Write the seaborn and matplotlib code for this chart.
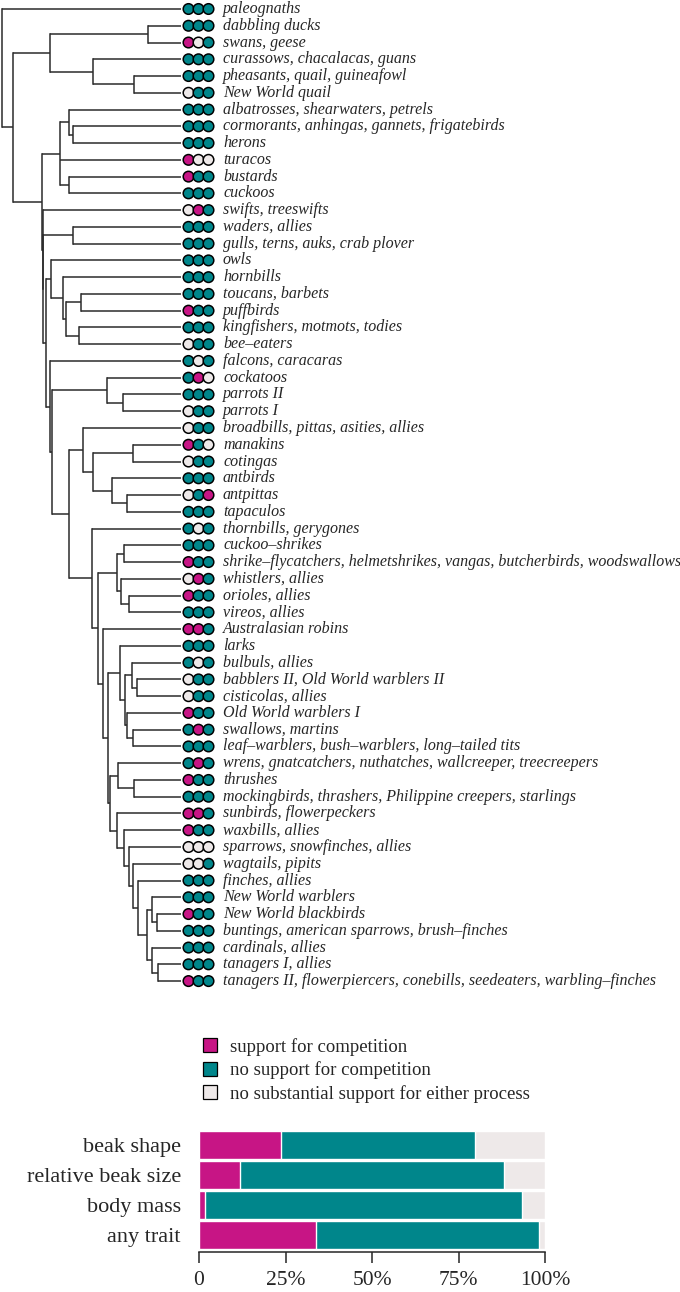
import numpy as np
import pandas as pd
import matplotlib
matplotlib.use('Agg')
import matplotlib.pyplot as plt
from matplotlib.patches import Patch
import seaborn as sns

# bird groups, top to bottom
groups = ["paleognaths", "dabbling ducks", "swans, geese", "curassows, chacalacas, guans",
          "pheasants, quail, guineafowl", "New World quail", "albatrosses, shearwaters, petrels",
          "cormorants, anhingas, gannets, frigatebirds", "herons", "turacos", "bustards", "cuckoos",
          "swifts, treeswifts", "waders, allies", "gulls, terns, auks, crab plover", "owls", "hornbills",
          "toucans, barbets", "puffbirds", "kingfishers, motmots, todies", "bee–eaters",
          "falcons, caracaras", "cockatoos", "parrots II", "parrots I",
          "broadbills, pittas, asities, allies", "manakins", "cotingas", "antbirds", "antpittas",
          "tapaculos", "thornbills, gerygones", "cuckoo–shrikes",
          "shrike–flycatchers, helmetshrikes, vangas, butcherbirds, woodswallows",
          "whistlers, allies", "orioles, allies", "vireos, allies", "Australasian robins", "larks",
          "bulbuls, allies", "babblers II, Old World warblers II", "cisticolas, allies",
          "Old World warblers I", "swallows, martins", "leaf–warblers, bush–warblers, long–tailed tits",
          "wrens, gnatcatchers, nuthatches, wallcreeper, treecreepers", "thrushes",
          "mockingbirds, thrashers, Philippine creepers, starlings", "sunbirds, flowerpeckers",
          "waxbills, allies", "sparrows, snowfinches, allies", "wagtails, pipits", "finches, allies",
          "New World warblers", "New World blackbirds", "buntings, american sparrows, brush–finches",
          "cardinals, allies", "tanagers I, allies",
          "tanagers II, flowerpiercers, conebills, seedeaters, warbling–finches"]

# M = support for competition, T = no support, W = no substantial support
beak_shape    = "TTMTTWTTTM" "MTWTTTTTMT" "WTTTWWMWTW" "TTTMWMTMTT" "WWMTTTMTMM" "WWTTMTTTM"
rel_beak_size = "TTWTTTTTTW" "TTMTTTTTTT" "TWMTTTTTTT" "TWTTMTTMTW" "TTTMTMTTMT" "WWTTTTTTT"
body_mass     = "TTTTTTTTTW" "TTTTTTTTTT" "TTWTTTWTTM" "TTTTTTTTTT" "TTTTTTTTTT" "WTTTTTTTT"

# tree as (node depth, children); integers are tips
galloanserae = (50, [(148, [1, 2]), (93, [3, (134, [4, 5])])])
waterbirds = (60, [(69, [6, (73, [7, 8])]), 9, (69, [10, 11])])
afroaves = (51, [15, (63, [16, (66, [(81, [17, 18]), (79, [19, 20])])])])
parrots = (107, [22, (123, [23, 24])])
suboscines = (83, [25, (93, [(133, [26, 27]), (112, [28, (127, [29, 30])])])])
corvoidea = (117, [(124, [32, 33]), (121, [34, (129, [35, 36])])])
sylvioidea = (120, [38, (125, [(132, [39, (137, [40, 41])]), (127, [42, (133, [43, 44])])])])
muscicapoidea = (118, [45, (134, [46, 47])])
nw_nine = (147, [(152, [53, (157, [54, 55])]), (152, [56, (158, [57, 58])])])
passeroidea = (117, [48, (124, [49, (129, [50, (133, [51, (138, [52, nw_nine])])])])])
passerides = (103, [37, (108, [sylvioidea, (110, [muscicapoidea, passeroidea])])])
oscines = (92, [31, (98, [corvoidea, passerides])])
passerines = (69, [suboscines, oscines])
australaves = (50, [21, (52, [parrots, passerines])])
neoaves = (42, [waterbirds, (42.5, [12, (43, [(73, [13, 14]), (46, [afroaves, australaves])])])])
tree = (2, [0, (13, [galloanserae, neoaves])])
tip_depth = 181

traits = ["beak shape", "relative beak size", "body mass", "any trait"]
states = ["support for competition", "no support for competition",
          "no substantial support for either process"]
colors = {"M": "#C71585", "T": "#00868B", "W": "#EEE9E9"}

sns.set_style("white")
plt.rcParams['font.family'] = ['Liberation Serif', 'DejaVu Serif']

fig = plt.figure(figsize=(6.8, 12.92), dpi=100)

# ---- tree ----
ax = fig.add_axes([0, 1 - 995 / 1292, 1, 995 / 1292])
ax.set_xlim(0, 680)
ax.set_ylim((995 - 9) / 16.76, -9 / 16.76)
ax.axis('off')

hsegs, vsegs = [], []
def walk(node, parent_x):
    if isinstance(node, int):
        y = node
        hsegs.append((y, parent_x, tip_depth))
        return y
    depth, kids = node
    ys = [walk(k, depth) for k in kids]
    y = (ys[0] + ys[-1]) / 2
    vsegs.append((depth, ys[0], ys[-1]))
    if parent_x is not None:
        hsegs.append((y, parent_x, depth))
    return y

walk(tree, None)
for y, x0, x1 in hsegs:
    ax.plot([x0, x1], [y, y], color='#2b2b2b', lw=1.1, solid_capstyle='butt')
for x, y0, y1 in vsegs:
    ax.plot([x, x], [y0, y1], color='#2b2b2b', lw=1.1, solid_capstyle='projecting')

rows = []
for i in range(len(groups)):
    for k, codes in enumerate([beak_shape, rel_beak_size, body_mass]):
        rows.append({"tip": i, "x": 188.5 + 10 * k, "state": codes[i]})
dots = pd.DataFrame(rows)
sns.scatterplot(data=dots, x="x", y="tip", hue="state", palette=colors, s=58,
                edgecolor='black', linewidth=1.1, legend=False, ax=ax, zorder=3)
for i, name in enumerate(groups):
    ax.text(223, i, name, va='center', ha='left', fontsize=11.5, style='italic')

# ---- bar chart ----
def shares(codes):
    n = len(codes)
    return [100 * codes.count(c) / n for c in "MTW"]

any_trait = ""
for a, b, c in zip(beak_shape, rel_beak_size, body_mass):
    s = a + b + c
    any_trait += "M" if "M" in s else ("W" if s == "WWW" else "T")

share = {t: shares(c) for t, c in zip(traits, [beak_shape, rel_beak_size, body_mass, any_trait])}
bars = pd.DataFrame({"trait": traits,
                     "m": [share[t][0] for t in traits],
                     "mt": [share[t][0] + share[t][1] for t in traits],
                     "all": [100.0] * 4})

axb = fig.add_axes([199 / 680, 1 - 1252 / 1292, 346 / 680, 124 / 1292])
sns.barplot(data=bars, x="all", y="trait", color=colors["W"], width=0.93, ax=axb, orient='h', saturation=1)
sns.barplot(data=bars, x="mt", y="trait", color=colors["T"], width=0.93, ax=axb, orient='h', saturation=1)
sns.barplot(data=bars, x="m", y="trait", color=colors["M"], width=0.93, ax=axb, orient='h', saturation=1)
axb.set_xlim(0, 100)
axb.set_ylim(3.55, -0.55)
axb.set_xlabel("")
axb.set_ylabel("")
sns.despine(ax=axb, left=True)
axb.spines['bottom'].set_bounds(0, 100)
axb.spines['bottom'].set_linewidth(1.1)
axb.set_xticks([0, 25, 50, 75, 100])
axb.set_xticklabels(["0", "25%", "50%", "75%", "100%"])
axb.tick_params(axis='x', length=8, width=1.1, labelsize=15.5, pad=6, bottom=True)
axb.tick_params(axis='y', length=0, labelsize=16, pad=13)

handles = [Patch(facecolor=colors[c], edgecolor='black', lw=0.9) for c in "MTW"]
fig.legend(handles, states, loc='upper left', bbox_to_anchor=(203 / 680, 1 - 1038 / 1292),
           frameon=False, prop={'size': 13.5}, handlelength=0.75, handleheight=0.75,
           handletextpad=0.7, labelspacing=0.3, borderpad=0, borderaxespad=0)

fig.savefig("out.png", dpi=100)
